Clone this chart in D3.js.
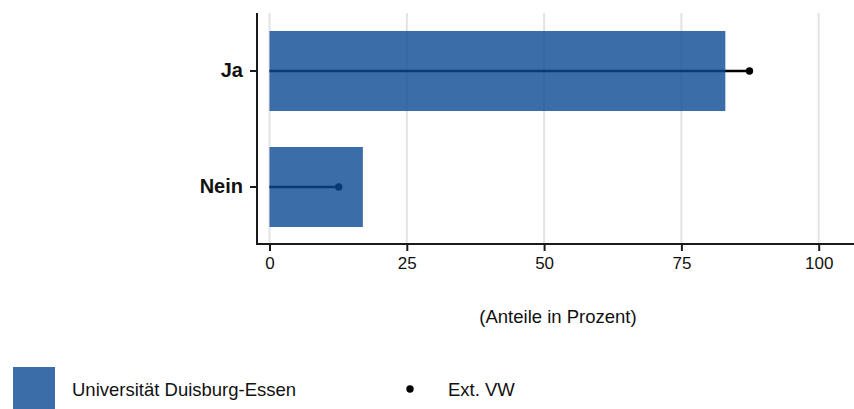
<!DOCTYPE html>
<html>
<head>
<meta charset="utf-8">
<script src="https://cdn.jsdelivr.net/npm/d3@7"></script>
<style>
  body { margin: 0; background: white; }
  svg { display: block; font-family: "Liberation Sans", Arial, sans-serif; }
</style>
</head>
<body>
<div id="chart"></div>
<script>
// data
const categories = ["Ja", "Nein"];
const uniValues = [83, 17];          // Universität Duisburg-Essen (bars)
const extValues = [87.4, 12.6];      // Ext. VW (points)
const xTicks = [0, 25, 50, 75, 100];
const axisTitle = "(Anteile in Prozent)";
const legendLabels = ["Universität Duisburg-Essen", "Ext. VW"];

const width = 854, height = 409;
const panelLeft = 257, panelTop = 13, panelBottom = 244;

const svg = d3.select("#chart").append("svg")
  .attr("width", width)
  .attr("height", height);

const x = d3.scaleLinear().domain([0, 100]).range([269.5, 818.7]);
const y = d3.scaleBand().domain(categories).range([13, 245])
  .paddingInner(0.31).paddingOuter(0.155);

const barColor = "#0a4a94";

// gridlines
svg.append("g").selectAll("line")
  .data(xTicks)
  .join("line")
  .attr("x1", d => x(d)).attr("x2", d => x(d))
  .attr("y1", panelTop).attr("y2", panelBottom)
  .attr("stroke", "#e3e3e3")
  .attr("stroke-width", 2);

const rows = categories.map((c, i) => ({ cat: c, uni: uniValues[i], ext: extValues[i] }));

// Ext. VW lines + points (drawn under translucent bars)
svg.append("g").selectAll("line")
  .data(rows)
  .join("line")
  .attr("x1", x(0)).attr("x2", d => x(d.ext))
  .attr("y1", d => y(d.cat) + y.bandwidth() / 2)
  .attr("y2", d => y(d.cat) + y.bandwidth() / 2)
  .attr("stroke", "black")
  .attr("stroke-width", 2.3);

svg.append("g").selectAll("circle")
  .data(rows)
  .join("circle")
  .attr("cx", d => x(d.ext))
  .attr("cy", d => y(d.cat) + y.bandwidth() / 2)
  .attr("r", 3.7)
  .attr("fill", "black");

// bars
svg.append("g").selectAll("rect")
  .data(rows)
  .join("rect")
  .attr("x", x(0))
  .attr("y", d => y(d.cat))
  .attr("width", d => x(d.uni) - x(0))
  .attr("height", y.bandwidth())
  .attr("fill", barColor)
  .attr("fill-opacity", 0.8);

// x axis
const xAxis = svg.append("g")
  .attr("transform", `translate(0,${panelBottom})`)
  .call(d3.axisBottom(x).tickValues(xTicks).tickSize(7).tickPadding(6).tickSizeOuter(0));
xAxis.select(".domain").remove();
xAxis.selectAll(".tick line").attr("stroke", "#1a1a1a").attr("stroke-width", 2);
xAxis.selectAll(".tick text")
  .attr("font-family", "Liberation Sans, Arial, sans-serif")
  .attr("font-size", 17)
  .attr("fill", "#111");

// y axis
const yAxis = svg.append("g")
  .attr("transform", `translate(${panelLeft},0)`)
  .call(d3.axisLeft(y).tickSize(7).tickPadding(7).tickSizeOuter(0));
yAxis.select(".domain").remove();
yAxis.selectAll(".tick line").attr("stroke", "#1a1a1a").attr("stroke-width", 2);
yAxis.selectAll(".tick text")
  .attr("font-family", "Liberation Sans, Arial, sans-serif")
  .attr("font-size", 20)
  .attr("font-weight", "bold")
  .attr("fill", "#111");

// axis lines
svg.append("line")
  .attr("x1", panelLeft).attr("x2", panelLeft)
  .attr("y1", panelTop).attr("y2", panelBottom)
  .attr("stroke", "#1a1a1a").attr("stroke-width", 2);
svg.append("line")
  .attr("x1", panelLeft - 1).attr("x2", width)
  .attr("y1", panelBottom).attr("y2", panelBottom)
  .attr("stroke", "#1a1a1a").attr("stroke-width", 2);

// axis title
svg.append("text")
  .attr("x", 558)
  .attr("y", 323)
  .attr("text-anchor", "middle")
  .attr("font-size", 18.5)
  .attr("fill", "#111")
  .text(axisTitle);

// legend
const legend = svg.append("g");
legend.append("rect")
  .attr("x", 13).attr("y", 367)
  .attr("width", 42).attr("height", 42)
  .attr("fill", barColor)
  .attr("fill-opacity", 0.8);
legend.append("text")
  .attr("x", 72).attr("y", 396)
  .attr("font-size", 18.5)
  .attr("fill", "#111")
  .text(legendLabels[0]);
legend.append("circle")
  .attr("cx", 410).attr("cy", 389)
  .attr("r", 3.7)
  .attr("fill", "black");
legend.append("text")
  .attr("x", 448).attr("y", 396)
  .attr("font-size", 18.5)
  .attr("fill", "#111")
  .text(legendLabels[1]);
</script>
</body>
</html>
